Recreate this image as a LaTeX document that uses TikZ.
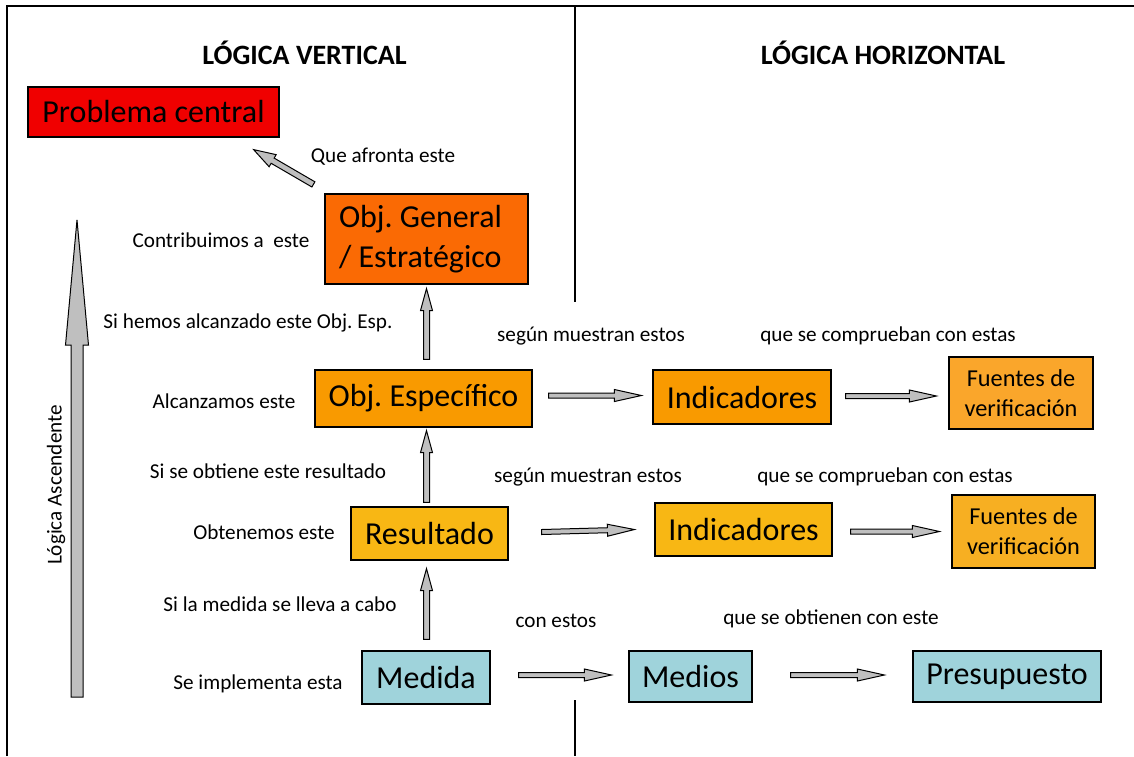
\documentclass[tikz,border=0pt]{standalone}
\usepackage{fontspec}
\setmainfont{Carlito}
\usetikzlibrary{calc}

\definecolor{rojo}{HTML}{F00000}
\definecolor{naranjaosc}{HTML}{FA6A04}
\definecolor{naranja}{HTML}{F99A00}
\definecolor{naranjaclaro}{HTML}{FAA62B}
\definecolor{amarillo}{HTML}{F8B714}
\definecolor{amarilloosc}{HTML}{F7AF22}
\definecolor{turquesa}{HTML}{9FD3DB}
\definecolor{flecha}{HTML}{BFBFBF}

\newcommand{\cajatxt}{\fontsize{32}{40}\selectfont}
\newcommand{\fuentetxt}{\fontsize{24.3}{30}\selectfont}
\newcommand{\lbltxt}{\fontsize{21.2}{25}\selectfont}
\newcommand{\titulotxt}{\fontsize{28}{32}\selectfont\bfseries}

% flecha de bloque: inicio, fin, medio grosor, media cabeza, largo cabeza
\newcommand{\blockarrow}[5]{%
  \path[draw=black, fill=flecha, line width=1pt, line join=miter]
    let \p1=(#1), \p2=(#2),
        \n1={atan2(\y2-\y1,\x2-\x1)}, \n2={veclen(\x2-\x1,\y2-\y1)} in
    [shift={(\p1)}, rotate=\n1]
    (0,-#3) -- ({\n2-#5},-#3) -- ({\n2-#5},-#4) -- (\n2,0)
    -- ({\n2-#5},#4) -- ({\n2-#5},#3) -- (0,#3) -- cycle;}

\begin{document}
\frenchspacing
\begin{tikzpicture}[x=1pt, y=-1pt,
    caja/.style={rectangle, draw, line width=1.2pt, inner sep=0pt, font=\cajatxt},
    fuente/.style={caja, font=\fuentetxt, align=center},
    lbl/.style={inner sep=0pt, font=\lbltxt},
    titulo/.style={inner sep=0pt, font=\titulotxt}
]
\useasboundingbox (0,0) rectangle (1134,756);

% marco
\draw[line width=1.5pt] (7,756) -- (7,6) -- (1134,6);
\draw[line width=1.2pt] (575,6) -- (575,302);
\draw[line width=1.2pt] (575,700) -- (575,756);

\node[titulo] (tvert) at (304.5,53) {LÓGICA VERTICAL};
\node[titulo] (thor) at (883,53) {LÓGICA HORIZONTAL};

\node[caja, fill=rojo, minimum width=251pt, minimum height=50pt] (prob) at (153.5,112) {Problema central};
\node[caja, fill=naranjaosc, minimum width=203pt, minimum height=90pt, align=flush left,
      text width=175pt] (objgen) at (426.5,239) {Obj. General\\/ Estratégico};
\node[caja, fill=naranja, minimum width=217pt, minimum height=57pt] (objesp) at (423.5,398.5) {Obj. Específico};
\node[caja, fill=naranja, minimum width=178pt, minimum height=54pt] (ind1) at (742,397) {Indicadores};
\node[fuente, fill=naranjaclaro, minimum width=144pt, minimum height=72pt] (fue1) at (1021,393) {Fuentes de\\verificación};
\node[caja, fill=amarillo, minimum width=157pt, minimum height=53pt] (result) at (429.5,533.5) {Resultado};
\node[caja, fill=amarillo, minimum width=177pt, minimum height=53pt] (ind2) at (743.5,529.5) {Indicadores};
\node[fuente, fill=amarilloosc, minimum width=143pt, minimum height=73pt] (fue2) at (1023.5,531.5) {Fuentes de\\verificación};
\node[caja, fill=turquesa, minimum width=128pt, minimum height=53pt] (medida) at (426,677.5) {Medida};
\node[caja, fill=turquesa, minimum width=123pt, minimum height=51pt] (medios) at (690.5,676.5) {Medios};
\node[caja, fill=turquesa, minimum width=188pt, minimum height=51pt] (presu) at (1007,676.5) {Presupuesto};

\node[lbl] (l1) at (383,157) {Que afronta este};
\node[lbl] (l2) at (221,240) {Contribuimos a~ este};
\node[lbl] (l3) at (248,323) {Si hemos alcanzado este Obj. Esp.};
\node[lbl] (l4) at (224,401) {Alcanzamos este};
\node[lbl] (l5) at (268,471) {Si se obtiene este resultado};
\node[lbl] (l6) at (264,532) {Obtenemos este};
\node[lbl] (l7) at (280,604) {Si la medida se lleva a cabo};
\node[lbl] (l8) at (258,684) {Se implementa esta};
\node[lbl] (l9) at (591,336) {según muestran estos};
\node[lbl] (l10) at (888,336) {que se comprueban con estas};
\node[lbl] (l11) at (588,477) {según muestran estos};
\node[lbl] (l12) at (885,477) {que se comprueban con estas};
\node[lbl] (l13) at (556,621) {con estos};
\node[lbl] (l14) at (831,619) {que se obtienen con este};
\node[lbl, rotate=90] (asc) at (56,485) {Lógica Ascendente};

% logica ascendente
\coordinate (ascbot) at (77,697);
\coordinate (asctop) at (77,220);
\blockarrow{ascbot}{asctop}{6}{11.5}{125}

% flechas verticales
\blockarrow{$(objgen.north west)+(-11,-9)$}{$(prob.south east)+(-26,12)$}{3}{7}{22}
\blockarrow{$(objgen.south|-objesp.north)+(0,-10)$}{$(objgen.south)+(0,4)$}{3}{6}{22}
\blockarrow{$(objgen.south|-result.north)+(0,-4)$}{$(objgen.south|-objesp.south)+(0,3)$}{3}{6}{22}
\blockarrow{$(objgen.south|-medida.north)+(0,-11)$}{$(objgen.south|-result.south)+(0,8)$}{3}{6}{22}

% flechas horizontales
\blockarrow{$(objesp.east)+(16,-3)$}{$(ind1.west)+(-11,-1.5)$}{2.5}{6}{27}
\blockarrow{$(ind1.east)+(14,-1)$}{$(fue1.west|-ind1.west)+(-12,-1)$}{2.5}{6}{27}
\blockarrow{$(result.east)+(33,-1.5)$}{$(ind2.west)+(-20,0)$}{2.5}{6}{27}
\blockarrow{$(ind2.east)+(18,2)$}{$(fue2.west|-ind2.west)+(-12,2)$}{2.5}{6}{27}
\blockarrow{$(medida.east)+(28,-2.5)$}{$(medios.west)+(-17,-1.5)$}{2.5}{6}{27}
\blockarrow{$(medios.east)+(38,-1.5)$}{$(presu.west)+(-28,-1.5)$}{2.5}{6}{27}

\end{tikzpicture}
\end{document}
